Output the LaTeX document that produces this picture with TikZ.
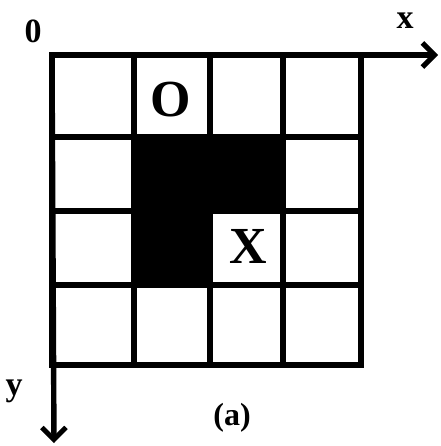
\documentclass[tikz,border=0pt]{standalone}
\usepackage{fontspec}
\setmainfont{Liberation Serif}
\usetikzlibrary{arrows.meta}
\begin{document}
\begin{tikzpicture}[x=1pt,y=-1pt,
  gridline/.style={line width=5.4pt,line cap=butt},
  axisline/.style={line width=5.4pt,-{Straight Barb[length=12pt,width=24pt,line width=5pt]}},
  big/.style={font=\fontsize{52}{52}\selectfont\bfseries,inner sep=0pt},
  small/.style={font=\fontsize{34}{34}\selectfont\bfseries,inner sep=0pt}]
\useasboundingbox (0,0) rectangle (440,446);
% black cells
\fill (134,137) rectangle (283,211);
\fill (134,211) rectangle (210,285);
% grid
\foreach \x in {52,134,210,283,361} \draw[gridline] (\x,52.3) -- (\x,367.7);
\foreach \y in {55,137,211,285,365} \draw[gridline] (49.3,\y) -- (363.7,\y);
% axes
\coordinate (org) at (52,55);
\coordinate (xend) at (438,55);
\coordinate (yend) at (54,443);
\draw[axisline] (org) -- (xend);
\draw[axisline] (org) -- (yend);
% labels
\node[small] (zero) at (33,31) {0};
\node[small] (xl) at (405,21) {x};
\node[small] (yl) at (14,391) {y};
\node[font=\fontsize{32}{32}\selectfont\bfseries,inner sep=0pt] (cap) at (232,418) {(a)};
\node[big] (O) at (171,100) {O};
\node[big] (X) at (248,246) {X};
\end{tikzpicture}
\end{document}
